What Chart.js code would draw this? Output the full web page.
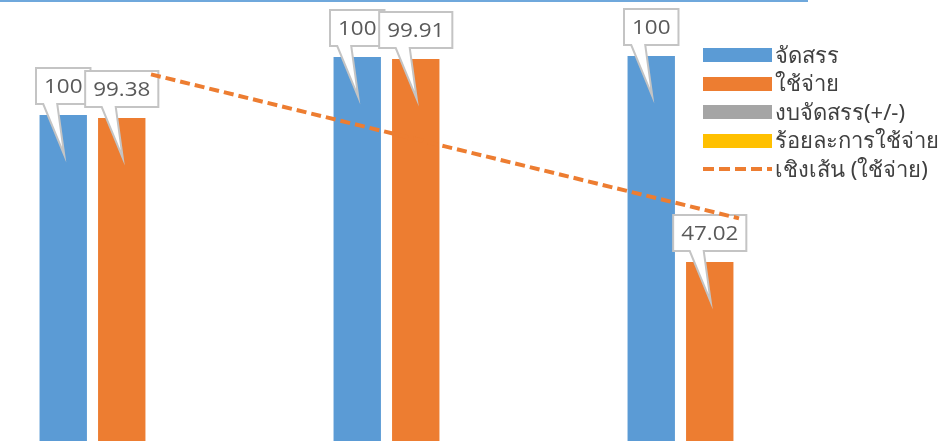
<!DOCTYPE html>
<html>
<head>
<meta charset="utf-8">
<script src="https://cdn.jsdelivr.net/npm/chart.js@4/dist/chart.umd.min.js"></script>
<style>
    body { margin: 0; background: #fff; }
    #wrap { position: relative; width: 948px; height: 441px; overflow: hidden; }
    #topLine { position: absolute; left: 0; top: 0; width: 808px; height: 2px; background: #6fa8dc; }
    #legend { position: absolute; left: 703px; top: 41px; font-family: "Noto Sans", sans-serif; font-size: 22px; color: #404040; }
    .item { height: 28.5px; display: flex; align-items: center; white-space: nowrap; }
    .sw { width: 69px; height: 14px; margin-right: 3px; flex: none; }
</style>
</head>
<body>
<div id="wrap">
    <canvas id="chartGasto" width="948" height="441"></canvas>
    <div id="topLine"></div>
    <div id="legend"></div>
</div>
<script>
// categorias (sin rotulo visible en la imagen recortada)
const categorias = ['1', '2', '3'];
// montos de barras (unidades relativas, leidas del alto de cada barra)
const jatsan = [326, 384, 385];
const chaiJai = [323, 382, 179];
// series que no se ven dentro del recorte
const ngopJatsan = [null, null, null];
const roiLa = [null, null, null];
// rotulos de las barras (porcentaje)
const rotuloJatsan = [100, 100, 100];
const rotuloChaiJai = [99.38, 99.91, 47.02];

const nombres = ['จัดสรร', 'ใช้จ่าย', 'งบจัดสรร(+/-)', 'ร้อยละการใช้จ่าย', 'เชิงเส้น (ใช้จ่าย)'];
const colores = ['#5b9bd5', '#ed7d31', '#a5a5a5', '#ffc000', '#ed7d31'];

// tendencia lineal de "ใช้จ่าย" (como la linea de tendencia de Excel)
function tendencia(valores) {
    const n = valores.length;
    let sx = 0, sy = 0, sxy = 0, sxx = 0;
    valores.forEach((v, i) => { sx += i; sy += v; sxy += i * v; sxx += i * i; });
    const m = (n * sxy - sx * sy) / (n * sxx - sx * sx);
    const b = (sy - m * sx) / n;
    return valores.map((v, i) => b + m * i);
}

/* =====================
   ROTULOS TIPO GLOBO
===================== */
const globos = {
    id: 'globos',
    afterDatasetDraw(chart, args) {
        if (args.index !== 0) return;
        const ctx = chart.ctx;
        const rotulos = [rotuloJatsan, rotuloChaiJai];
        ctx.save();
        ctx.font = '19.5px "Open Sans"';
        [0, 1].forEach(d => {
            chart.getDatasetMeta(d).data.forEach((bar, i) => {
                const texto = String(rotulos[d][i]);
                const tw = ctx.measureText(texto).width * 1.15;
                const w = Math.max(45, tw + 16);
                const h = 36;
                const cx = bar.x;
                const abajo = bar.y - 11;
                const arriba = abajo - h;
                const izq = cx - w / 2;
                const der = cx + w / 2;
                ctx.beginPath();
                ctx.moveTo(izq, arriba);
                ctx.lineTo(der, arriba);
                ctx.lineTo(der, abajo);
                ctx.lineTo(cx - 6, abajo);
                ctx.lineTo(cx + 1, bar.y + 40);
                ctx.lineTo(cx - 20, abajo);
                ctx.lineTo(izq, abajo);
                ctx.closePath();
                ctx.fillStyle = '#fff';
                ctx.fill();
                ctx.lineWidth = 2;
                ctx.strokeStyle = '#c4c4c4';
                ctx.stroke();
                ctx.save();
                ctx.translate(cx, arriba + h / 2 + 1);
                ctx.scale(1.15, 1);
                ctx.fillStyle = '#595959';
                ctx.textAlign = 'center';
                ctx.textBaseline = 'middle';
                ctx.fillText(texto, 0, 0);
                ctx.restore();
            });
        });
        ctx.restore();
    }
};

new Chart(
    document.getElementById('chartGasto'),
    {
        type: 'bar',
        data: {
            labels: categorias,
            datasets: [
                { label: nombres[0], data: jatsan, backgroundColor: colores[0] },
                { label: nombres[1], data: chaiJai, backgroundColor: colores[1] },
                { label: nombres[2], data: ngopJatsan, backgroundColor: colores[2] },
                { label: nombres[3], data: roiLa, backgroundColor: colores[3] },
                {
                    type: 'line',
                    label: nombres[4],
                    data: tendencia(chaiJai),
                    borderColor: colores[4],
                    borderWidth: 4,
                    borderDash: [10, 5],
                    pointRadius: 0,
                    fill: false,
                    order: -1
                }
            ]
        },
        options: {
            responsive: false,
            animation: false,
            categoryPercentage: 0.796,
            barPercentage: 0.81,
            layout: { padding: { left: 4, right: 62, top: 0, bottom: 0 } },
            scales: {
                x: { display: false, offset: true },
                y: { display: false, min: 0, max: 441 }
            },
            plugins: {
                legend: { display: false },
                tooltip: { enabled: false }
            }
        },
        plugins: [globos]
    }
);

// leyenda
const leyenda = document.getElementById('legend');
nombres.forEach((nombre, i) => {
    const fila = document.createElement('div');
    fila.className = 'item';
    let muestra;
    if (i === 4) {
        muestra = '<svg class="sw" viewBox="0 0 69 14"><line x1="0" y1="7" x2="69" y2="7" stroke="' + colores[i] + '" stroke-width="4" stroke-dasharray="11,5"/></svg>';
    } else {
        muestra = '<div class="sw" style="background:' + colores[i] + '"></div>';
    }
    fila.innerHTML = muestra + '<span>' + nombre + '</span>';
    leyenda.appendChild(fila);
});
</script>
</body>
</html>
